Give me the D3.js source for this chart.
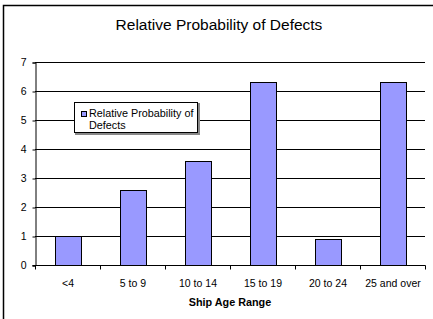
<!DOCTYPE html>
<html><head><meta charset="utf-8">
<script src="https://cdn.jsdelivr.net/npm/d3@7"></script>
<style>body{margin:0;background:#fff;}svg{display:block;font-family:"Liberation Sans",Arial,sans-serif;}</style>
</head><body>
<script>
const categories = ["<4","5 to 9","10 to 14","15 to 19","20 to 24","25 and over"];
const values = [1, 2.6, 3.6, 6.3, 0.9, 6.3];
const yTicks = [0,1,2,3,4,5,6,7];
const seriesName = "Relative Probability of Defects";
const chartTitle = "Relative Probability of Defects";
const xTitle = "Ship Age Range";

const W = 433, H = 319;
const svg = d3.select("body").append("svg").attr("width", W).attr("height", H);
svg.append("rect").attr("x",3.5).attr("y",5.5).attr("width",460).attr("height",340)
  .attr("fill","#fff").attr("stroke","#000").attr("stroke-width",1.5);

const x = d3.scaleBand().domain(categories).range([35,425]).paddingInner(0.6).paddingOuter(0.3);
const y = d3.scaleLinear().domain([0,7]).range([265,62]);

// gridlines
svg.append("g").selectAll("line").data(yTicks.filter(d=>d>0)).join("line")
  .attr("x1",35).attr("x2",425).attr("y1",d=>Math.round(y(d))+0.5).attr("y2",d=>Math.round(y(d))+0.5)
  .attr("stroke","#000").attr("stroke-width",1);

// bars
svg.append("g").selectAll("rect").data(values).join("rect")
  .attr("x",(d,i)=>Math.round(x(categories[i]))+0.5)
  .attr("y",d=>Math.round(y(d))+0.5)
  .attr("width",Math.round(x.bandwidth()))
  .attr("height",d=>Math.round(y(0))-Math.round(y(d)))
  .attr("fill","#9999FF").attr("stroke","#000").attr("stroke-width",1);

// y axis
const yAxis = d3.axisLeft(y).tickValues(yTicks).tickFormat(d3.format("d")).tickSize(3).tickPadding(6);
const gy = svg.append("g").attr("transform","translate(35.5,0.5)").call(yAxis);
gy.select(".domain").attr("stroke","#000");
gy.selectAll("text").attr("font-size",10.5).attr("fill","#000").attr("font-family","Liberation Sans, Arial");

// x axis
const xb = d3.scalePoint().domain(d3.range(7)).range([35,425]);
const gx = svg.append("g").attr("transform","translate(0.5,265.5)");
gx.append("line").attr("x1",32).attr("x2",425).attr("stroke","#000");
gx.selectAll("line.t").data(d3.range(7)).join("line").attr("class","t")
  .attr("x1",d=>xb(d)).attr("x2",d=>xb(d)).attr("y1",0).attr("y2",4).attr("stroke","#000");
gx.selectAll("text").data(categories).join("text")
  .attr("x",d=>x(d)+x.bandwidth()/2).attr("y",21)
  .attr("text-anchor","middle").attr("font-size",10.5).attr("fill","#000").text(d=>d);

// titles
svg.append("text").attr("x",219).attr("y",30).attr("text-anchor","middle")
  .attr("font-size",15.5).attr("fill","#000").text(chartTitle);
svg.append("text").attr("x",230).attr("y",306).attr("text-anchor","middle")
  .attr("font-size",10.8).attr("font-weight","bold").attr("fill","#000").text(xTitle);

// legend
const lg = svg.append("g");
lg.append("rect").attr("x",75.5).attr("y",103.5).attr("width",123).attr("height",30)
  .attr("fill","none").attr("stroke","#888").attr("stroke-width",2).attr("transform","translate(0.5,0.5)");
lg.append("rect").attr("x",74.5).attr("y",102.5).attr("width",123).attr("height",30)
  .attr("fill","#fff").attr("stroke","#000").attr("stroke-width",1);
lg.append("rect").attr("x",81.5).attr("y",111.5).attr("width",5).attr("height",5)
  .attr("fill","#9999FF").attr("stroke","#000").attr("stroke-width",1);
const words = seriesName.split(" ");
const lt = lg.append("text").attr("font-size",10.8).attr("fill","#000");
lt.append("tspan").attr("x",89).attr("y",117).text(words.slice(0,3).join(" "));
lt.append("tspan").attr("x",89).attr("y",129).text(words.slice(3).join(" "));
</script>
</body></html>
